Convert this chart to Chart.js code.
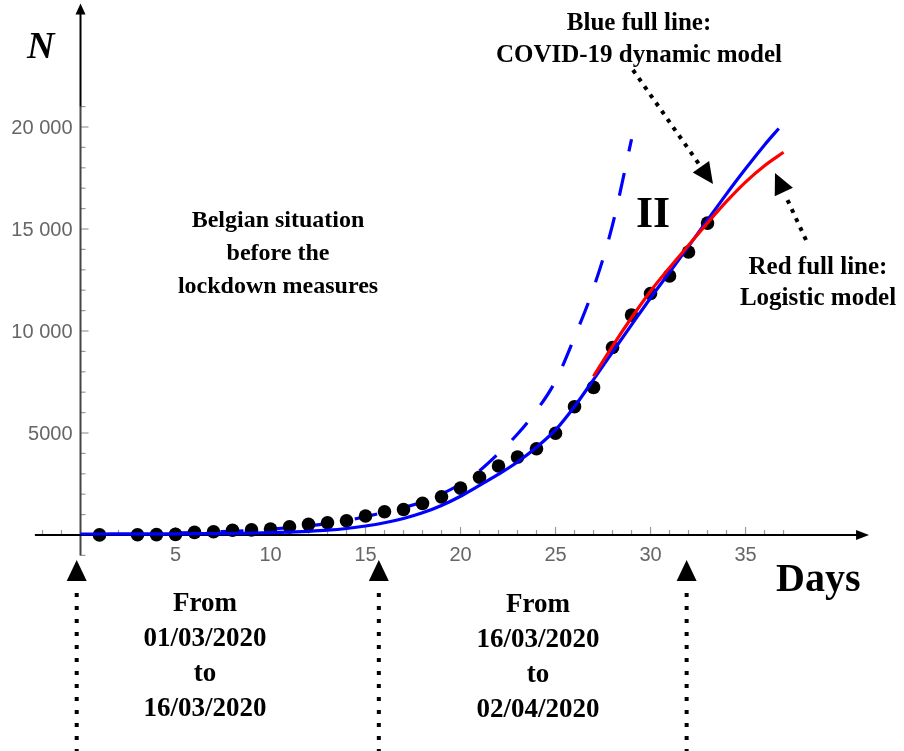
<!DOCTYPE html>
<html>
<head>
<meta charset="utf-8">
<title>Belgium COVID-19 cases</title>
<script src="https://cdn.jsdelivr.net/npm/chart.js@4.4.1/dist/chart.umd.min.js"></script>
<style>
  html, body { margin: 0; padding: 0; background: #fff; overflow: hidden; }
  #chart { display: block; }
</style>
</head>
<body>
<canvas id="chart" width="904" height="751"></canvas>
<script>
// observed cumulative cases (day 1 = 01/03/2020)
const obsDays = [1, 3, 4, 5, 6, 7, 8, 9, 10, 11, 12, 13, 14, 15, 16, 17, 18, 19, 20,
                 21, 22, 23, 24, 25, 26, 27, 28, 29, 30, 31, 32, 33];
const obsCases = [5, 15, 20, 30, 130, 160, 230, 250, 290, 400, 520, 600, 700, 930, 1140, 1250, 1550, 1870, 2300,
                  2830, 3380, 3820, 4230, 4990, 6290, 7235, 9190, 10780, 11840, 12700, 13870, 15290];

// blue full line: COVID-19 dynamic model
const modelDays = [0, 1, 2, 3, 4, 5, 6, 7, 8, 9, 10, 11, 12, 13, 14, 15, 16, 17, 18, 19, 20,
                   21, 22, 23, 24, 25, 26, 27, 28, 29, 30, 31, 32, 33, 34, 35, 36, 36.75];
const modelCases = [50, 50, 52, 54, 57, 60, 65, 72, 82, 95, 112, 140, 180, 235, 320, 440, 600, 810, 1090, 1450, 1900,
                    2430, 2980, 3580, 4300, 5150, 6300, 7620, 8970, 10300, 11620, 12880, 14150, 15450, 16720, 17950, 19120, 19930];

// blue dashed line: situation before the lockdown measures
const noLockDays = [5, 6, 7, 8, 9, 10, 11, 12, 13, 14, 15, 16, 17, 18, 19, 20, 21, 22, 23, 24, 25, 26, 27, 28, 29];
const noLockCases = [95, 120, 150, 185, 230, 290, 360, 450, 560, 700, 900, 1110, 1340, 1630, 2010, 2500, 3150, 4000,
                     4950, 6100, 7550, 9700, 12100, 15200, 19400];

// red full line: logistic model
const logDays = [27, 28, 29, 30, 31, 32, 33, 34, 35, 36, 37];
const logCases = [7780, 9260, 10650, 11950, 13100, 14200, 15300, 16350, 17300, 18100, 18760];

const xTicks = [5, 10, 15, 20, 25, 30, 35];
const yTicks = [5000, 10000, 15000, 20000];
const periodMarks = [-0.2, 15.7, 31.9];

const toXY = (xs, ys) => xs.map((x, i) => ({ x: x, y: ys[i] }));
const fmt = v => v >= 10000 ? String(v).replace(/(\d+)(\d{3})$/, '$1 $2') : String(v);

const SERIF = "'Liberation Serif', 'Times New Roman', serif";
const SANS = "'Liberation Sans', Arial, sans-serif";

function arrow(ctx, x1, y1, x2, y2, dash) {
    const dx = x2 - x1, dy = y2 - y1, len = Math.hypot(dx, dy);
    const ux = dx / len, uy = dy / len;
    const hl = 21, hw = 10;
    const bx = x2 - ux * hl, by = y2 - uy * hl;
    ctx.save();
    ctx.strokeStyle = '#000';
    ctx.lineWidth = 4;
    ctx.setLineDash(dash);
    ctx.beginPath();
    ctx.moveTo(x1, y1);
    ctx.lineTo(bx - ux * 3, by - uy * 3);
    ctx.stroke();
    ctx.setLineDash([]);
    ctx.fillStyle = '#000';
    ctx.beginPath();
    ctx.moveTo(x2, y2);
    ctx.lineTo(bx - uy * hw, by + ux * hw);
    ctx.lineTo(bx + uy * hw, by - ux * hw);
    ctx.closePath();
    ctx.fill();
    ctx.restore();
}

function lines(ctx, texts, cx, y0, step) {
    texts.forEach((t, i) => ctx.fillText(t, cx, y0 + i * step));
}

// axes through the origin, with arrows and inward ticks
const axesPlugin = {
    id: 'axes',
    beforeDatasetsDraw(chart) {
        const ctx = chart.ctx;
        const xs = chart.scales.x, ys = chart.scales.y;
        const x0 = xs.getPixelForValue(0), y0 = ys.getPixelForValue(0);
        ctx.save();

        // minor / major ticks
        ctx.strokeStyle = '#999';
        ctx.lineWidth = 1.2;
        for (let d = -2; d <= 37; d++) {
            if (d === 0) continue;
            const p = xs.getPixelForValue(d);
            const l = d % 5 === 0 ? 8 : 5;
            ctx.beginPath(); ctx.moveTo(p, y0); ctx.lineTo(p, y0 - l); ctx.stroke();
        }
        for (let v = -1000; v <= 21000; v += 1000) {
            if (v === 0) continue;
            const p = ys.getPixelForValue(v);
            const l = v % 5000 === 0 ? 8 : 5;
            ctx.beginPath(); ctx.moveTo(x0, p); ctx.lineTo(x0 + l, p); ctx.stroke();
        }

        // y axis
        ctx.strokeStyle = '#444';
        ctx.lineWidth = 2;
        ctx.beginPath();
        ctx.moveTo(x0, ys.getPixelForValue(-1000));
        ctx.lineTo(x0, ys.getPixelForValue(21000));
        ctx.stroke();
        ctx.strokeStyle = '#000';
        const yTop = ys.getPixelForValue(26050);
        ctx.beginPath();
        ctx.moveTo(x0, ys.getPixelForValue(21000));
        ctx.lineTo(x0, yTop + 8);
        ctx.stroke();
        ctx.fillStyle = '#000';
        ctx.beginPath();
        ctx.moveTo(x0, yTop); ctx.lineTo(x0 - 5, yTop + 11); ctx.lineTo(x0 + 5, yTop + 11);
        ctx.closePath(); ctx.fill();

        // x axis
        const xRight = xs.getPixelForValue(41.5);
        ctx.lineWidth = 2;
        ctx.beginPath();
        ctx.moveTo(xs.getPixelForValue(-2.4), y0);
        ctx.lineTo(xRight - 8, y0);
        ctx.stroke();
        ctx.beginPath();
        ctx.moveTo(xRight, y0); ctx.lineTo(xRight - 13, y0 - 5); ctx.lineTo(xRight - 13, y0 + 5);
        ctx.closePath(); ctx.fill();

        // tick labels
        ctx.fillStyle = '#666';
        ctx.font = '20px ' + SANS;
        ctx.textAlign = 'center';
        ctx.textBaseline = 'top';
        xTicks.forEach(d => ctx.fillText(String(d), xs.getPixelForValue(d), y0 + 10));
        ctx.textAlign = 'right';
        ctx.textBaseline = 'middle';
        yTicks.forEach(v => ctx.fillText(fmt(v), x0 - 8, ys.getPixelForValue(v) + 1));
        ctx.restore();
    },
    afterDatasetsDraw(chart) {
        const ctx = chart.ctx;
        const xs = chart.scales.x, ys = chart.scales.y;
        const y0 = ys.getPixelForValue(0);
        ctx.save();
        ctx.fillStyle = '#000';

        // axis titles
        ctx.textAlign = 'left';
        ctx.textBaseline = 'alphabetic';
        ctx.font = 'bold italic 38px ' + SERIF;
        ctx.fillText('N', 27, 58);
        ctx.font = 'bold 40px ' + SERIF;
        ctx.fillText('Days', 776, 591);
        ctx.font = 'bold 44px ' + SERIF;
        ctx.fillText('II', 636, 227);

        // annotations
        ctx.textAlign = 'center';
        ctx.textBaseline = 'middle';
        ctx.font = 'bold 25px ' + SERIF;
        lines(ctx, ['Blue full line:', 'COVID-19 dynamic model'], 639, 24, 32);
        lines(ctx, ['Red full line:', 'Logistic model'], 818, 268, 31);
        ctx.font = 'bold 24px ' + SERIF;
        lines(ctx, ['Belgian situation', 'before the', 'lockdown measures'], 278, 221, 33);
        ctx.font = 'bold 27px ' + SERIF;
        lines(ctx, ['From', '01/03/2020', 'to', '16/03/2020'], 205, 604, 35);
        lines(ctx, ['From', '16/03/2020', 'to', '02/04/2020'], 538, 605, 35);
        ctx.restore();

        arrow(ctx, 633, 70, 713, 184, [4, 6]);
        arrow(ctx, 806, 240, 775, 173, [4, 6]);
        periodMarks.forEach(d => {
            const p = xs.getPixelForValue(d);
            arrow(ctx, p, chart.height + 2, p, y0 + 25, [4, 9]);
        });
    }
};

new Chart(document.getElementById('chart').getContext('2d'), {
    type: 'scatter',
    data: {
        datasets: [{
            label: 'Logistic model',
            data: toXY(logDays, logCases),
            showLine: true,
            borderColor: '#ff0000',
            borderWidth: 3.2,
            pointRadius: 0,
            cubicInterpolationMode: 'monotone',
            order: 0
        }, {
            label: 'COVID-19 dynamic model',
            data: toXY(modelDays, modelCases),
            showLine: true,
            borderColor: '#0000ff',
            borderWidth: 3.2,
            pointRadius: 0,
            cubicInterpolationMode: 'monotone',
            order: 1
        }, {
            label: 'Data',
            data: toXY(obsDays, obsCases),
            backgroundColor: '#000',
            borderWidth: 0,
            pointRadius: 6.8,
            order: 2
        }, {
            label: 'Before lockdown',
            data: toXY(noLockDays, noLockCases),
            showLine: true,
            borderColor: '#0000ff',
            borderWidth: 3.2,
            borderDash: [23, 22],
            pointRadius: 0,
            cubicInterpolationMode: 'monotone',
            order: 3
        }]
    },
    options: {
        responsive: false,
        animation: false,
        layout: { padding: 0, autoPadding: false },
        plugins: { legend: { display: false }, tooltip: { enabled: false } },
        scales: {
            x: { type: 'linear', min: -4.237, max: 43.34, display: false },
            y: { type: 'linear', min: -10588, max: 26225, display: false }
        }
    },
    plugins: [axesPlugin]
});
</script>
</body>
</html>
